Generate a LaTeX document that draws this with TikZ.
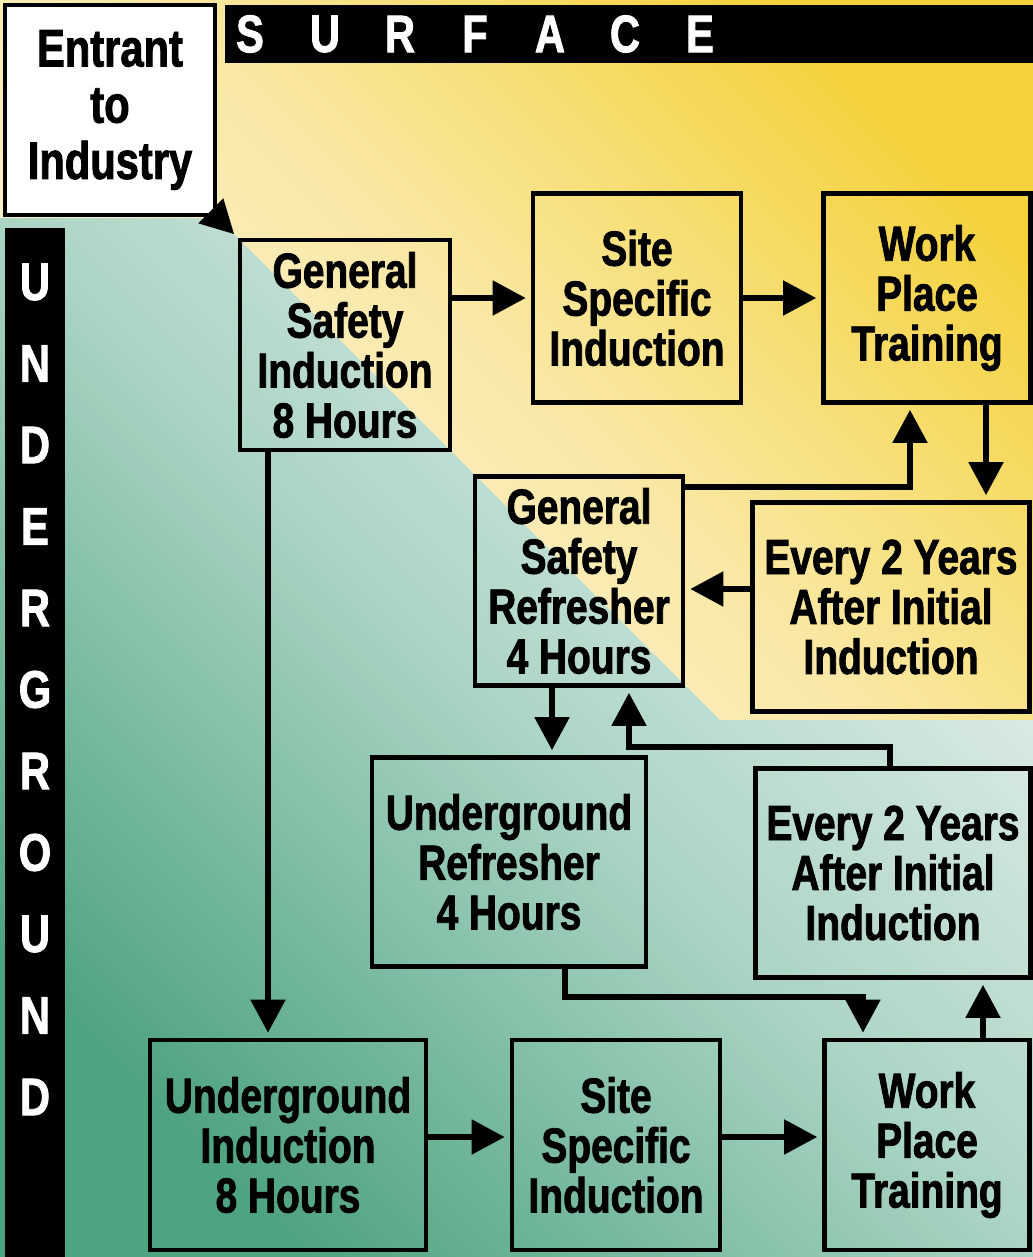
\documentclass[tikz,border=0pt]{standalone}
\usepackage{fontspec}
\usepackage{tikz}
\usetikzlibrary{arrows.meta}
\newfontfamily\boxfont[FakeStretch=0.79,FakeBold=1.6]{Liberation Sans}
\definecolor{goldY}{RGB}{244,210,60}
\definecolor{midY}{RGB}{249,232,165}
\definecolor{paleY}{RGB}{251,245,222}
\definecolor{darkG}{RGB}{78,163,128}
\definecolor{midG}{RGB}{170,212,195}
\definecolor{paleG}{RGB}{234,241,236}

\begin{document}
\begin{tikzpicture}[x=0.01cm,y=-0.01cm,
        stage/.style={draw,line width=1.3pt,inner sep=0pt,align=center,
            font=\boxfont\bfseries\fontsize{14}{14.2}\selectfont},
        arr/.style={line width=1.5pt,-{Triangle[length=3.3mm,width=3.4mm]},shorten >=0.05cm},
        barletter/.style={text=white,font=\boxfont\bfseries\fontsize{15}{15}\selectfont}]
        \useasboundingbox (0,0) rectangle (1033,1257);
        % 背景: 上面黄色, 下面绿色
        \shade[top color=goldY,bottom color=paleY,middle color=midY,shading angle=-45]
            (0,0) -- (1033,0) -- (1033,720) -- (720,720) -- (218,218) -- (0,218) -- cycle;
        \shade[top color=paleG,bottom color=darkG,middle color=midG,shading angle=-45]
            (0,218) -- (218,218) -- (720,720) -- (1033,720) -- (1033,1257) -- (0,1257) -- cycle;
        % 黑色标题条
        \fill (225,5) rectangle (1033,63);
        \fill (5,228) rectangle (65,1257);
        \foreach \l [count=\i from 0] in {S,U,R,F,A,C,E}{
            \node[barletter] (s\i) at (250+75*\i,34) {\l};
        }
        \foreach \l [count=\i from 0] in {U,N,D,E,R,G,R,O,U,N,D}{
            \node[barletter] (u\i) at (35,282+81.5*\i) {\l};
        }
        % 方框
        \node[stage,fill=white,minimum width=2.1cm,minimum height=2.1cm,
            font=\boxfont\bfseries\fontsize{15}{16}\selectfont] (entrant) at (110,110) {Entrant\\to\\Industry};
        \node[stage,minimum width=2.1cm,minimum height=2.1cm] (gsi) at (345,345) {General\\Safety\\Induction\\8 Hours};
        \node[stage,minimum width=2.08cm,minimum height=2.09cm] (ssiS) at (637,298) {Site\\Specific\\Induction};
        \node[stage,minimum width=2.07cm,minimum height=2.09cm] (wptS) at (927,298) {Work\\Place\\Training};
        \node[stage,minimum width=2.08cm,minimum height=2.09cm] (gsr) at (579,581) {General\\Safety\\Refresher\\4 Hours};
        \node[stage,minimum width=2.77cm,minimum height=2.09cm] (e2S) at (891,607) {Every 2 Years\\After Initial\\Induction};
        \node[stage,minimum width=2.74cm,minimum height=2.09cm] (ur) at (509,862) {Underground\\Refresher\\4 Hours};
        \node[stage,minimum width=2.75cm,minimum height=2.09cm] (e2U) at (893,873) {Every 2 Years\\After Initial\\Induction};
        \node[stage,minimum width=2.76cm,minimum height=2.1cm] (ui) at (288,1145) {Underground\\Induction\\8 Hours};
        \node[stage,minimum width=2.08cm,minimum height=2.1cm] (ssiU) at (616,1145) {Site\\Specific\\Induction};
        \node[stage,minimum width=2.05cm,minimum height=2.1cm] (wptU) at (927,1145) {Work\\Place\\Training};
        % 拐点
        \coordinate (k1) at (910,487);
        \coordinate (k2) at (986,450);
        \coordinate (k3) at (720,589);
        \coordinate (k4) at (552,720);
        \coordinate (k5) at (890,747);
        \coordinate (k6) at (629,747);
        \coordinate (k7) at (565,997);
        \coordinate (k8) at (863,997);
        \coordinate (k9) at (983,1010);
        \coordinate (k10) at (268,700);
        \coordinate (k11) at (470,1137);
        % 箭头
        \draw[arr] (entrant.south east) -- (gsi.north west);
        \draw[arr] (gsi.east |- ssiS.west) -- (ssiS.west);
        \draw[arr] (ssiS.east) -- (wptS.west);
        \draw[arr] (gsr.east |- k1) -| (wptS.south -| k1);
        \draw[arr] (wptS.south -| k2) -- (e2S.north -| k2);
        \draw[arr] (e2S.west |- k3) -- (gsr.east |- k3);
        \draw[arr] (gsr.south -| k4) -- (ur.north -| k4);
        \draw[arr] (e2U.north -| k5) |- (k6) -- (gsr.south -| k6);
        \draw[arr] (ur.south -| k7) |- (k8) -- (wptU.north -| k8);
        \draw[arr] (wptU.north -| k9) -- (e2U.south -| k9);
        \draw[arr] (gsi.south -| k10) -- (ui.north -| k10);
        \draw[arr] (ui.east |- k11) -- (ssiU.west |- k11);
        \draw[arr] (ssiU.east |- k11) -- (wptU.west |- k11);
    \end{tikzpicture}
\end{document}
